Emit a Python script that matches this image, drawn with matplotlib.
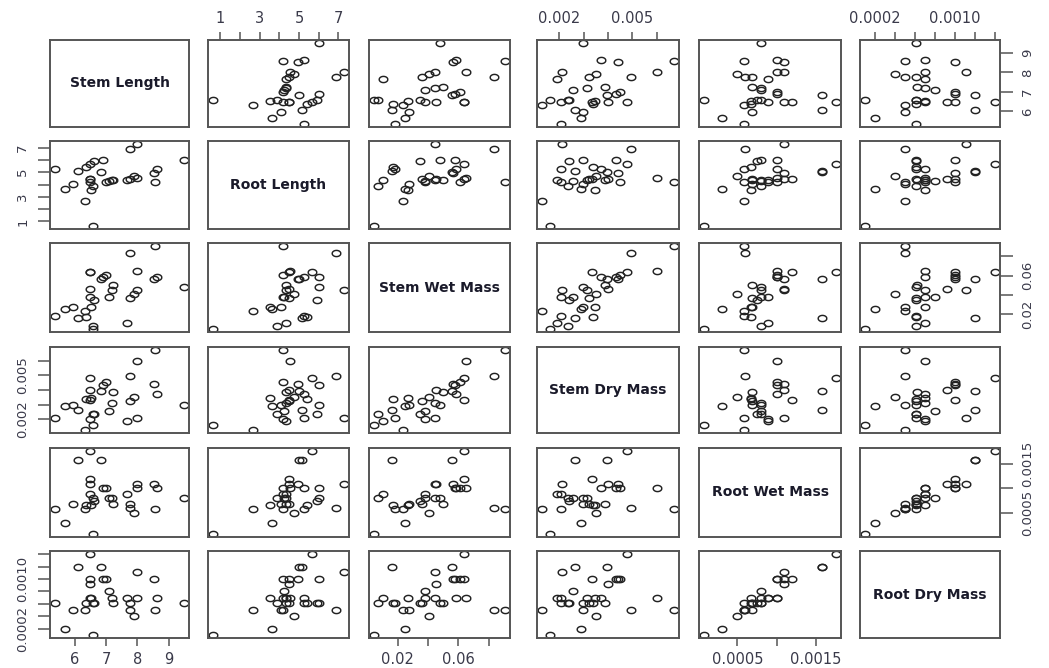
import numpy as np
import matplotlib
matplotlib.use('Agg')
import matplotlib.pyplot as plt
from matplotlib.path import Path

# ------------------------------------------------------------
# data (read off the scatterplot matrix, one entry per plant)
# ------------------------------------------------------------
names = ['Stem Length', 'Root Length', 'Stem Wet Mass',
         'Stem Dry Mass', 'Root Wet Mass', 'Root Dry Mass']

stem_length = [5.37, 5.68, 5.95, 6.10, 6.32, 6.37, 6.47, 6.47, 6.47, 6.47,
               6.53, 6.58, 6.58, 6.60, 6.84, 6.90, 7.00, 7.10, 7.19, 7.23,
               7.68, 7.76, 7.76, 7.90, 8.00, 8.00, 8.53, 8.58, 8.63, 9.49]
root_length = [5.27, 3.61, 4.07, 5.13, 2.68, 5.40, 5.67, 4.47, 4.47, 4.20,
               3.53, 0.65, 3.88, 5.93, 5.00, 5.99, 4.20, 4.25, 4.33, 4.33,
               4.33, 4.47, 6.87, 4.73, 7.27, 4.52, 4.95, 4.20, 5.27, 5.99]
stem_wet = [0.0180, 0.0249, 0.0276, 0.0162, 0.0234, 0.0172, 0.0637, 0.0637, 0.0455, 0.0379,
            0.0270, 0.0045, 0.0069, 0.0345, 0.0560, 0.0580, 0.0610, 0.0379, 0.0448, 0.0500,
            0.0104, 0.0362, 0.0834, 0.0407, 0.0448, 0.0648, 0.0562, 0.0906, 0.0586, 0.0476]
stem_dry = [0.00209, 0.00291, 0.00298, 0.00266, 0.00130, 0.00340, 0.00479, 0.00335, 0.00398, 0.00206,
            0.00345, 0.00160, 0.00234, 0.00240, 0.00394, 0.00432, 0.00451, 0.00255, 0.00313, 0.00387,
            0.00191, 0.00323, 0.00494, 0.00351, 0.00213, 0.00600, 0.00440, 0.00670, 0.00372, 0.00298]
root_wet = [0.00059, 0.00030, 0.00069, 0.00158, 0.00058, 0.00067, 0.00175, 0.00119, 0.00109, 0.00089,
            0.00067, 0.00008, 0.00080, 0.00075, 0.00158, 0.00100, 0.00100, 0.00080, 0.00080, 0.00069,
            0.00089, 0.00069, 0.00060, 0.00050, 0.00109, 0.00100, 0.00109, 0.00059, 0.00100, 0.00080]
root_dry = [0.00061, 0.00020, 0.00050, 0.00120, 0.00050, 0.00061, 0.00140, 0.00100, 0.00092, 0.00070,
            0.00070, 0.00010, 0.00061, 0.00061, 0.00120, 0.00100, 0.00100, 0.00080, 0.00070, 0.00062,
            0.00070, 0.00061, 0.00050, 0.00040, 0.00111, 0.00070, 0.00100, 0.00050, 0.00070, 0.00061]

columns = [stem_length, root_length, stem_wet, stem_dry, root_wet, root_dry]

# tick positions and which of them carry a label (R drops the crowded ones)
tick_pos = [[6, 7, 8, 9],
            [1, 2, 3, 4, 5, 6, 7],
            [0.02, 0.04, 0.06, 0.08],
            [0.002, 0.003, 0.004, 0.005, 0.006],
            [0.0005, 0.0010, 0.0015],
            [0.0002, 0.0004, 0.0006, 0.0008, 0.0010, 0.0012, 0.0014]]
tick_txt = [['6', '7', '8', '9'],
            ['1', '', '3', '', '5', '', '7'],
            ['0.02', '', '0.06', ''],
            ['0.002', '', '', '0.005', ''],
            ['0.0005', '', '0.0015'],
            ['0.0002', '', '', '', '0.0010', '', '']]

# ------------------------------------------------------------
# layout (pixel boxes of the panels)
# ------------------------------------------------------------
W, H = 1049, 668
col_x = [(50, 189), (208, 349), (369, 510), (537, 679), (699, 841), (860, 1000)]
row_y = [(40, 127), (141, 229), (243, 332), (347, 433), (448, 537), (551, 638)]

INK = '#222222'
FRAME = '#555555'
LBL = '#3a3a4a'

# open circle, a bit flattened like the original
t = np.linspace(0, 2 * np.pi, 40)
ring = Path(np.column_stack([np.cos(t), 0.72 * np.sin(t)]))

fig = plt.figure(figsize=(W / 100, H / 100), dpi=100)
fig.patch.set_facecolor('white')


def lims(vals):
    lo, hi = min(vals), max(vals)
    pad = 0.04 * (hi - lo)
    return lo - pad, hi + pad


n = len(names)
for r in range(n):
    for c in range(n):
        x0, x1 = col_x[c]
        y0, y1 = row_y[r]
        ax = fig.add_axes([x0 / W, 1 - y1 / H, (x1 - x0) / W, (y1 - y0) / H])
        ax.set_xlim(*lims(columns[c]))
        ax.set_ylim(*lims(columns[r]))
        for sp in ax.spines.values():
            sp.set_color(FRAME)
            sp.set_linewidth(1.4)
        ax.set_xticks([])
        ax.set_yticks([])

        if r == c:
            ax.text(0.5, 0.5, names[r], transform=ax.transAxes, ha='center',
                    va='center', fontsize=10, fontweight='bold', color='#1a1a2a',
                    family='DejaVu Sans')
        else:
            ax.plot(columns[c], columns[r], linestyle='none', marker=ring,
                    markersize=6.2, markerfacecolor='none', markeredgecolor=INK,
                    markeredgewidth=1.05)

        # outer axes, alternating sides like R's pairs()
        if r == 0 and c % 2 == 1:
            ax.xaxis.tick_top()
            ax.set_xticks(tick_pos[c])
            ax.set_xticklabels(tick_txt[c])
        if r == n - 1 and c % 2 == 0:
            ax.set_xticks(tick_pos[c])
            ax.set_xticklabels(tick_txt[c])
        if c == 0 and r % 2 == 1:
            ax.set_yticks(tick_pos[r])
            ax.set_yticklabels(tick_txt[r], rotation=90, va='center')
        if c == n - 1 and r % 2 == 0:
            ax.yaxis.tick_right()
            ax.set_yticks(tick_pos[r])
            ax.set_yticklabels(tick_txt[r], rotation=90, va='center')

        ax.tick_params(axis='x', length=6, width=1.1, color=FRAME, pad=4,
                       labelsize=10.5, labelcolor=LBL)
        ax.tick_params(axis='y', length=9, width=1.1, color=FRAME, pad=6,
                       labelsize=9.5, labelcolor=LBL)

plt.savefig('out.png', dpi=100, facecolor='white')
